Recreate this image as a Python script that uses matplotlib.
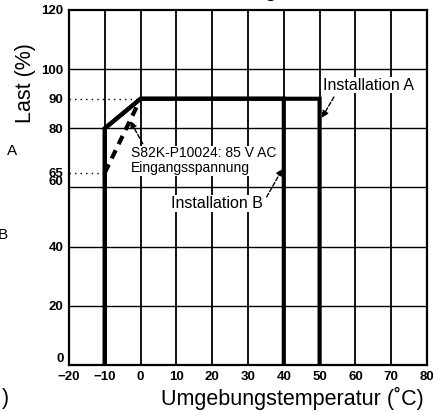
import matplotlib
matplotlib.use("Agg")
import matplotlib.pyplot as plt

plt.rcParams['font.family'] = ['Liberation Sans', 'DejaVu Sans']

# Data
temp_A = [-10, -10, 0, 50, 50]
load_A = [0, 80, 90, 90, 0]
temp_B = [-10, -10, 0, 40, 40]
load_B = [0, 80, 90, 90, 0]
temp_85V = [-10, -0.8]
load_85V = [65, 88]
x_ticks = [-20, -10, 0, 10, 20, 30, 40, 50, 60, 70, 80]
y_ticks = [0, 20, 40, 60, 65, 80, 90, 100, 120]
y_grid = [20, 40, 60, 80, 100]

W, H = 433, 411
fig = plt.figure(figsize=(W / 100, H / 100), dpi=100)
ax = fig.add_axes([69 / W, 1 - 365 / H, (427 - 69) / W, (365 - 10) / H])

ax.set_xlim(-20, 80)
ax.set_ylim(0, 120)

# grid
for x in x_ticks[1:-1]:
    ax.axvline(x, color='black', lw=1.3, zorder=1)
for y in y_grid:
    ax.axhline(y, color='black', lw=1.0, zorder=1)

# dotted guide lines
ax.plot([-20, 0], [90, 90], color='black', lw=1.0, ls=(0, (1, 3)), zorder=2)
ax.plot([-20, -10], [65, 65], color='black', lw=1.0, ls=(0, (1, 3)), zorder=2)

# curves
ax.plot(temp_A, load_A, color='black', lw=3.0, solid_joinstyle='miter', zorder=3)
ax.plot(temp_B, load_B, color='black', lw=3.0, solid_joinstyle='miter', zorder=3)
ax.plot(temp_85V, load_85V, color='black', lw=3.0, ls=(0, (2.2, 1.6)), zorder=3)

# annotations
arrow = dict(arrowstyle='-|>', color='black', lw=1.0, ls=(0, (3, 1.5)),
             mutation_scale=10, shrinkA=0, shrinkB=0)
box = dict(boxstyle='square,pad=0.05', fc='white', ec='none')

ax.text(50.9, 94.6, 'Installation A', fontsize=11.5, va='center', ha='left',
        bbox=box, zorder=5)
ax.annotate('', xy=(50.6, 83.5), xytext=(54.0, 90.6), arrowprops=arrow, zorder=5)

ax.text(-2.6, 69.0, 'S82K-P10024: 85 V AC\nEingangsspannung', fontsize=10,
        va='center', ha='left', linespacing=1.1, bbox=box, zorder=5)
ax.annotate('', xy=(-2.9, 82.5), xytext=(0.6, 74.8), arrowprops=arrow, zorder=5)

ax.text(8.5, 54.6, 'Installation B', fontsize=11.5, va='center', ha='left',
        bbox=box, zorder=5)
ax.annotate('', xy=(39.7, 66.4), xytext=(35.2, 56.8), arrowprops=arrow, zorder=5)

# ticks
ax.set_xticks(x_ticks)
ax.set_xticklabels([str(v).replace('-', '\u2212') for v in x_ticks],
                   fontsize=9.5, fontweight='bold')
ax.set_yticks(y_ticks)
ax.set_yticklabels([str(v) for v in y_ticks], fontsize=9.5, fontweight='bold')
ax.tick_params(axis='both', length=0, pad=4)
ylabels = ax.get_yticklabels()
ylabels[0].set_va('bottom')      # 0
ylabels[3].set_va('bottom')      # 60

for s in ax.spines.values():
    s.set_linewidth(1.6)
    s.set_color('black')

# axis labels
fig.text(25 / W, 1 - 83 / H, 'Last (%)', rotation=90, fontsize=15.5,
         ha='center', va='center')
fig.text(292 / W, 1 - 398 / H, 'Umgebungstemperatur (\u02daC)', fontsize=15.5,
         ha='center', va='center')

# fragments of neighbouring text
fig.text(12 / W, 1 - 151 / H, 'A', fontsize=11, ha='center', va='center')
fig.text(3 / W, 1 - 235 / H, 'B', fontsize=11, ha='center', va='center')
fig.text(9 / W, 1 - 398 / H, ')', fontsize=15.5, ha='right', va='center')
fig.text(270 / W, 1 + 3 / H, 'g', fontsize=15, ha='center', va='baseline')

fig.savefig('out.png', dpi=100)
